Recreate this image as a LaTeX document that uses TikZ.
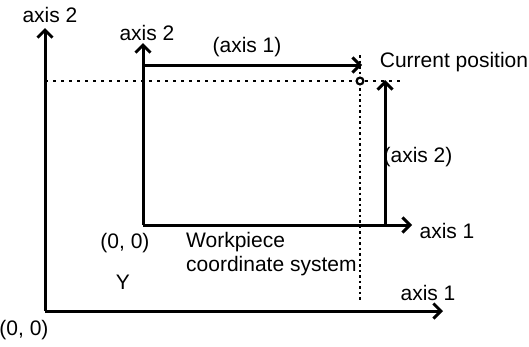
\documentclass[tikz,border=0pt]{standalone}
\usepackage{fontspec}
\setmainfont{Liberation Sans}
\usetikzlibrary{arrows.meta,positioning}
\begin{document}
\begin{tikzpicture}[x=1pt,y=-1pt,>={Straight Barb[length=7.5pt,width=15pt,line width=3pt]},
 every node/.style={font=\fontsize{21}{24}\selectfont,inner sep=0pt},
 axis/.style={->,line width=3pt},guide/.style={line width=2pt,dash pattern=on 3pt off 5pt},
 fine/.style={line width=1.2pt,dash pattern=on 2.5pt off 3pt}]
\useasboundingbox (0,0) rectangle (529,346);
% machine coordinate system
\coordinate (o) at (45,311);
\coordinate (o1) at (443,311);
\coordinate (o2) at (45,28);
% workpiece coordinate system
\coordinate (w) at (143,225);
\coordinate (w1) at (412,225);
\coordinate (w2) at (143,43);
\coordinate (wt) at (143,65);
\coordinate (p) at (360,81);
\coordinate (q) at (385,225);
\coordinate (qt) at (385,80);
\coordinate (pt) at (362,65);
\coordinate (gl) at (45,81);
\coordinate (gr) at (403,81);
\coordinate (gt) at (360,55);
\coordinate (gb) at (360,302);
\draw[guide](gl)--(gr);
\draw[fine](gt)--(gb);
\draw[axis](o)--(o2);\draw[axis](o)--(o1);
\draw[axis](w)--(w2);\draw[axis](w)--(w1);
\draw[axis](wt)--(pt);\draw[axis](q)--(qt);
\draw[line width=2.2pt,fill=white](p) circle (3.4pt);
\node(lo2) at (50,15){axis 2};
\node(lw2) at (147,33){axis 2};
\node(lpt) at (247,47){(axis 1)};
\node(lp) at (454,62){Current position};
\node(lq) at (418,157){(axis 2)};
\node(lw1) at (447,231){axis 1};
\node(lo1) at (428,293){axis 1};
\node(lw) at (125,243){(0, 0)};
\node(lo) at (24,330){(0, 0)};
\node(ly) at (123,282){Y};
\node[anchor=west,align=left](lws) at (186,254){Workpiece\\coordinate system};
\end{tikzpicture}
\end{document}
